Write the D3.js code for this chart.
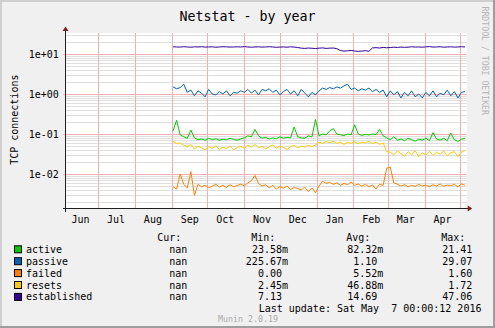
<!DOCTYPE html>
<html><head><meta charset="utf-8">
<script src="https://cdn.jsdelivr.net/npm/d3@7"></script>
<style>
html,body{margin:0;padding:0;background:#F0F0F0}
svg{display:block}
text{font-family:"DejaVu Sans Mono",monospace;fill:#000}
</style>
</head><body><svg id="c" width="495" height="328"></svg>
<script>
// ---------------- data ----------------
const title = "Netstat - by year";
const yAxisTitle = "TCP connections";
const watermark = "RRDTOOL / TOBI OETIKER";
const footer = "Munin 2.0.19";
const lastUpdate = "Last update: Sat May  7 00:00:12 2016";
const monthLabels = ["Jun","Jul","Aug","Sep","Oct","Nov","Dec","Jan","Feb","Mar","Apr"];
const yTickValues = [0.01, 0.1, 1, 10];
const yTickLabels = ["1e-02","1e-01","1e+00","1e+01"];
const seriesNames = ["active","passive","failed","resets","established"];
const seriesColors = ["#00CC00","#0066B3","#FF8000","#FFCC00","#330099"];
const legendHeaders = ["Cur:","Min:","Avg:","Max:"];
const curValues = ["nan","nan","nan","nan","nan"];
const minValues = ["23.58m","225.67m","0.00","2.45m","7.13"];
const avgValues = ["82.32m","1.10","5.52m","46.88m","14.69"];
const maxValues = ["21.41","29.07","1.60","1.72","47.06"];
// samples every 3 days starting 2015-09-02
const dataStart = Date.UTC(2015, 8, 2);
const stepDays = 3;
const active = [0.12,0.22,0.095,0.085,0.078,0.125,0.08,0.072,0.075,0.07,
  0.078,0.072,0.076,0.07,0.074,0.072,0.078,0.073,0.07,0.075,
  0.08,0.09,0.085,0.13,0.09,0.078,0.082,0.075,0.08,0.076,
  0.085,0.078,0.082,0.08,0.15,0.085,0.08,0.078,0.09,0.085,
  0.23,0.09,0.1,0.095,0.12,0.136,0.1,0.095,0.092,0.1,
  0.095,0.17,0.1,0.092,0.098,0.094,0.1,0.096,0.13,0.09,
  0.08,0.072,0.085,0.07,0.075,0.068,0.078,0.072,0.066,0.074,
  0.07,0.078,0.068,0.108,0.075,0.07,0.078,0.068,0.105,0.072,
  0.065,0.074,0.078];
const passive = [1.5,1.35,1.45,1.75,1.1,1.25,0.9,1.2,1.05,0.85,
  1.3,1.0,0.95,1.15,1.0,1.2,0.9,1.1,1.05,1.2,
  1.1,1.3,1.05,1.25,0.95,1.3,1.2,1.35,1.1,1.25,
  0.95,1.15,1.3,1.0,1.2,0.9,1.3,1.05,0.85,1.1,
  0.95,1.2,1.4,1.3,1.45,1.35,1.5,1.4,1.6,1.75,
  1.3,1.4,1.2,1.35,1.25,1.4,1.15,1.3,1.1,1.25,
  0.85,1.2,0.95,1.15,0.8,1.1,0.9,1.2,0.85,1.0,
  0.8,1.1,0.9,1.2,0.85,1.05,0.95,1.25,0.9,1.15,
  0.8,1.1,1.15];
const failed = [0.0048,0.0042,0.01,0.0055,0.0045,0.0115,0.0029,0.0055,0.0048,0.0052,
  0.0045,0.005,0.0055,0.0047,0.0052,0.0046,0.0054,0.0048,0.0051,0.0056,
  0.005,0.006,0.0068,0.0092,0.0058,0.005,0.0054,0.0045,0.0052,0.0042,
  0.0048,0.0044,0.005,0.0041,0.0046,0.0043,0.004,0.0047,0.0036,0.0045,
  0.0034,0.005,0.0066,0.0058,0.0062,0.0055,0.006,0.0052,0.0058,0.0054,
  0.0063,0.0052,0.0056,0.005,0.0055,0.0048,0.0053,0.0042,0.0055,0.0052,
  0.014,0.0148,0.006,0.0055,0.005,0.0054,0.0048,0.0052,0.0049,0.0055,
  0.005,0.0053,0.0048,0.0054,0.005,0.0056,0.0049,0.0053,0.0051,0.0055,
  0.0048,0.0056,0.0052];
const resets = [0.065,0.058,0.06,0.052,0.048,0.055,0.042,0.05,0.045,0.04,
  0.048,0.044,0.05,0.041,0.047,0.043,0.05,0.04,0.046,0.049,
  0.044,0.052,0.047,0.055,0.045,0.05,0.042,0.048,0.053,0.044,
  0.05,0.046,0.041,0.048,0.052,0.045,0.05,0.047,0.052,0.048,
  0.053,0.062,0.058,0.065,0.06,0.066,0.058,0.063,0.055,0.062,
  0.058,0.064,0.057,0.062,0.06,0.065,0.058,0.062,0.055,0.06,
  0.036,0.035,0.03,0.038,0.032,0.028,0.036,0.03,0.038,0.027,
  0.034,0.03,0.037,0.029,0.035,0.031,0.038,0.028,0.034,0.036,
  0.027,0.035,0.039];
const established = [15.1,15.0,14.9,15.2,15.0,14.8,15.1,15.0,15.2,14.9,
  15.0,15.1,14.8,15.0,15.2,15.1,14.9,15.0,15.1,15.0,
  15.3,15.0,14.8,15.0,15.1,14.9,15.0,15.2,15.0,14.7,
  14.9,15.0,14.8,15.1,14.9,14.5,14.0,13.8,14.1,13.9,
  13.7,14.0,14.2,13.8,14.0,14.1,13.6,12.2,11.8,12.0,
  12.3,11.9,11.6,11.8,12.1,11.7,14.2,14.4,14.1,14.6,
  14.3,14.5,14.8,14.6,14.9,14.7,14.8,15.2,14.9,15.0,
  14.8,15.1,15.3,14.9,15.0,15.2,14.8,15.0,15.1,14.9,
  15.0,15.2,15.0];
const seriesData = [active, passive, failed, resets, established];

// ---------------- drawing ----------------
const svg = d3.select("#c");
const L = 66, R = 466.7, T = 33, B = 208;
const x = d3.scaleUtc()
  .domain([Date.UTC(2015,5,3,19), Date.UTC(2016,4,6,9,20)])
  .range([L, R]);
const y = d3.scaleLog().domain([0.00141, 33.5]).range([B, T]);

// background + frame
svg.append("rect").attr("width",495).attr("height",328).attr("fill","#F0F0F0");
svg.append("rect").attr("x",0).attr("y",0).attr("width",495).attr("height",2).attr("fill","#CFCFCF");
svg.append("rect").attr("x",0).attr("y",0).attr("width",2).attr("height",328).attr("fill","#CFCFCF");
svg.append("rect").attr("x",0).attr("y",326).attr("width",495).attr("height",2).attr("fill","#9E9E9E");
svg.append("rect").attr("x",493).attr("y",0).attr("width",2).attr("height",328).attr("fill","#9E9E9E");

// canvas
svg.append("rect").attr("x",L).attr("y",T).attr("width",R-L).attr("height",B-T).attr("fill","#FFFFFF");

// minor horizontal grid
const minor = [];
for (let e = -3; e <= 1; e++) for (let k = 2; k <= 9; k++) {
  const v = k * Math.pow(10, e);
  if (v > y.domain()[0] && v < y.domain()[1]) minor.push(v);
}
svg.append("g").selectAll("line").data(minor).join("line")
  .attr("x1",L).attr("x2",R)
  .attr("y1",d=>Math.round(y(d))+0.5).attr("y2",d=>Math.round(y(d))+0.5)
  .attr("stroke","#DEDEDE").attr("stroke-width",1);

// month vertical lines
const months = d3.utcMonth.range(new Date(Date.UTC(2015,6,1)), new Date(Date.UTC(2016,4,2)));
svg.append("g").selectAll("line").data(months).join("line")
  .attr("x1",d=>Math.round(x(d))+0.5).attr("x2",d=>Math.round(x(d))+0.5)
  .attr("y1",T).attr("y2",B)
  .attr("stroke","#F2B0B0").attr("stroke-width",1);

// major horizontal grid
svg.append("g").selectAll("line").data(yTickValues).join("line")
  .attr("x1",L-3).attr("x2",R)
  .attr("y1",d=>Math.round(y(d))+0.5).attr("y2",d=>Math.round(y(d))+0.5)
  .attr("stroke","#F2B0B0").attr("stroke-width",1);

// y tick labels
svg.append("g").selectAll("text").data(yTickValues).join("text")
  .attr("x",58.9).attr("y",d=>y(d)+3.6)
  .attr("text-anchor","end").attr("font-size","10px")
  .text((d,i)=>yTickLabels[i]);

// month labels at mid-month
const labelDates = monthLabels.map((m,i)=>Date.UTC(2015, 5+i, 16));
svg.append("g").selectAll("text").data(labelDates).join("text")
  .attr("x",d=>x(d)).attr("y",223.3)
  .attr("text-anchor","middle").attr("font-size","10px")
  .text((d,i)=>monthLabels[i]);

// series lines
const line = d3.line()
  .x((d,i)=>x(dataStart + i*stepDays*86400000))
  .y(d=>y(d));
seriesData.forEach((s,k)=>{
  svg.append("path").datum(s)
    .attr("d",line).attr("fill","none")
    .attr("stroke",seriesColors[k]).attr("stroke-width",1)
    .attr("stroke-linejoin","round");
});

// axes
const axisCol = "#1F1F1F", arrowCol = "#801F1F";
svg.append("line").attr("x1",L-3).attr("x2",R+2).attr("y1",B+0.5).attr("y2",B+0.5)
  .attr("stroke",axisCol).attr("stroke-width",1);
svg.append("line").attr("x1",L-0.5).attr("x2",L-0.5).attr("y1",B+4).attr("y2",T-3)
  .attr("stroke",axisCol).attr("stroke-width",1);
svg.append("path").attr("d",`M${R+1},${B-2.5} L${R+5.5},${B+0.5} L${R+1},${B+3.5} Z`).attr("fill",arrowCol);
svg.append("path").attr("d",`M${L-3.5},${T-2} L${L-0.5},${T-6.5} L${L+2.5},${T-2} Z`).attr("fill",arrowCol);

// title
svg.append("text").attr("x",247.5).attr("y",21).attr("text-anchor","middle")
  .attr("font-size","13.3px").text(title);

// y axis title
svg.append("text").attr("transform","translate(17.5,119.7) rotate(-90)")
  .attr("text-anchor","middle").attr("font-size","10px").text(yAxisTitle);

// watermark
svg.append("text").attr("transform","translate(481.8,6.5) rotate(90)")
  .attr("font-size","8.2px").style("fill","#B4B4B4").text(watermark);

// legend
const charW = 6.02;
const headerX = [157.3, 251.3, 346.3, 441.3];
svg.append("g").selectAll("text").data(legendHeaders).join("text")
  .attr("x",(d,i)=>headerX[i]).attr("y",240.8).attr("font-size","10px").text(d=>d);

const rowY = seriesNames.map((n,i)=>249.3 + i*11.9);
const colEnds = [193.3, 288, 383.3, 478.3];
const cols = [curValues, minValues, avgValues, maxValues];
seriesNames.forEach((n,i)=>{
  svg.append("rect").attr("x",14.5).attr("y",rowY[i]-3.5).attr("width",7).attr("height",7)
    .attr("fill",seriesColors[i]).attr("stroke","#000").attr("stroke-width",1);
  svg.append("text").attr("x",26).attr("y",rowY[i]+3.5).attr("font-size","10px").text(n);
  cols.forEach((c,j)=>{
    const v = c[i];
    const hasUnit = /[a-zA-Z]$/.test(v) && v !== "nan";
    svg.append("text").attr("x", hasUnit ? colEnds[j] : colEnds[j]-charW)
      .attr("y",rowY[i]+3.5).attr("text-anchor","end").attr("font-size","10px").text(v);
  });
});
svg.append("text").attr("x",258.7).attr("y",311.8).attr("font-size","10px")
  .attr("xml:space","preserve").style("white-space","pre").text(lastUpdate);
svg.append("text").attr("x",248).attr("y",322).attr("text-anchor","middle")
  .attr("font-size","8.3px").style("fill","#ABABAB").text(footer);
</script>
</body></html>
